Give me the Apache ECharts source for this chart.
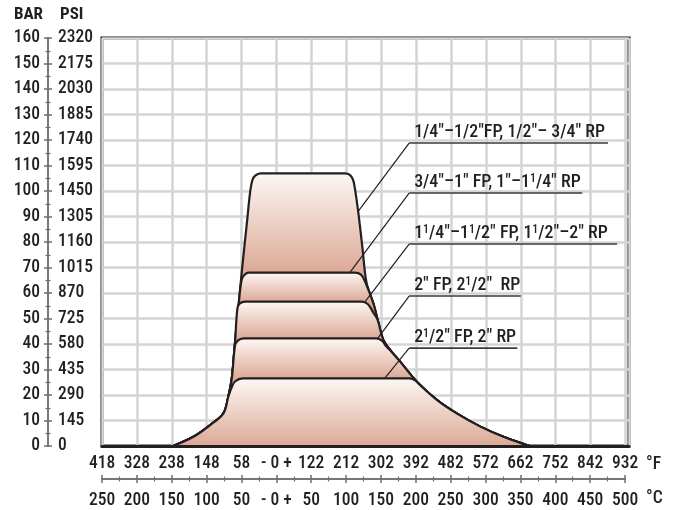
<!DOCTYPE html>
<html>
<head>
<meta charset="utf-8">
<script src="https://cdn.jsdelivr.net/npm/echarts@6/dist/echarts.min.js"></script>
<style>html,body{margin:0;padding:0;background:#fff}#c{width:675px;height:510px}</style>
</head>
<body>
<div id="c"></div>
<script>
// ---- tick labels ----
const barTicks = ['0','10','20','30','40','50','60','70','80','90','100','110','120','130','140','150','160'];
const psiTicks = ['0','145','290','435','580','725','870','1015','1160','1305','1450','1595','1740','1885','2030','2175','2320'];
const celsiusTicks = ['250','200','150','100','50','- 0 +','50','100','150','200','250','300','350','400','450','500'];
const fahrenheitTicks = ['418','328','238','148','58','- 0 +','122','212','302','392','482','572','662','752','842','932'];

// ---- pressure/temperature envelopes: [°C, bar] ----
const size14to12 = [[-148,0],[-119,3.6],[-95,8.2],[-76,12.8],[-69,19.3],[-64,26.5],[-59.5,40.3],[-54,56],[-50,67.7],[-42,88.6],[-38,99.1],[-34.5,104.3],[-30.5,106],[-23,106.9],[98,106.9],[105,106.3],[109.5,104.5],[112,101.5],[117,92],[123,78],[129,64],[138.7,56],[145,49.4],[153,41.6],[165,36.9],[177,33.1],[203,24.6],[230,18],[258,12.8],[292,7.6],[325,3.6],[358,0.4],[363,0]];
const size34to1 = [[-148,0],[-119,3.6],[-95,8.2],[-76,12.8],[-69,19.3],[-64,26.5],[-59.5,40.3],[-54,56],[-50.5,64.4],[-47.5,66.6],[-40,68],[112,68],[121,67.2],[127,64.4],[138.7,56],[145,49.4],[153,41.6],[165,36.9],[177,33.1],[203,24.6],[230,18],[258,12.8],[292,7.6],[325,3.6],[358,0.4],[363,0]];
const size114to112 = [[-148,0],[-119,3.6],[-95,8.2],[-76,12.8],[-69,19.3],[-64,26.5],[-59.5,40.3],[-56,54],[-52.5,55.9],[-45,56.6],[122,56.6],[131,55.6],[138.5,52.4],[145,49.4],[153,41.6],[165,36.9],[177,33.1],[203,24.6],[230,18],[258,12.8],[292,7.6],[325,3.6],[358,0.4],[363,0]];
const size2 = [[-148,0],[-119,3.6],[-95,8.2],[-76,12.8],[-69,19.3],[-64,26.5],[-59.5,39.2],[-55.5,41.3],[-47,42.2],[143,42.2],[151,41.3],[157,39.2],[165,36.9],[177,33.1],[203,24.6],[230,18],[258,12.8],[292,7.6],[325,3.6],[358,0.4],[363,0]];
const size212 = [[-148,0],[-119,3.6],[-95,8.2],[-76,12.8],[-69,19.3],[-64.5,22.8],[-59.5,25.3],[-48,26.5],[191,26.5],[198.5,25.8],[205.5,23.9],[230,18],[258,12.8],[292,7.6],[325,3.6],[358,0.4],[363,0]];

// ---- annotation texts and their anchors [°C, bar] ----
const annoText = [
  '1/4"–1/2"FP, 1/2"– 3/4" RP',
  '3/4"–1" FP, 1"–1{s|1}/4" RP',
  '1{s|1}/4"–1{s|1}/2" FP, 1{s|1}/2"–2" RP',
  '2" FP, 2{s|1}/2"  RP',
  '2{s|1}/2" FP, 2" RP'
];
const annoPoint = [[117,92],[105,68],[127,56.6],[145,42.2],[155,26.5]];
const annoLabelY = [118.8, 99.2, 79.2, 58.8, 38.4];
const annoLabelX = 190;
const annoLineEnd = [475, 438, 488, 350, 345];

// ---- pick the narrowest available installed font ----
const mctx = document.createElement('canvas').getContext('2d');
function hasFont(f) {
  const s = 'mmmmmmwwwwlli0123456789';
  for (const fb of ['monospace', 'serif']) {
    mctx.font = '40px ' + fb; const a = mctx.measureText(s).width;
    mctx.font = "40px '" + f + "', " + fb; const b = mctx.measureText(s).width;
    if (a !== b) return true;
  }
  return false;
}
const cands = ['Liberation Sans Narrow', 'Roboto Condensed', 'DejaVu Sans Condensed', 'Open Sans Condensed', 'Liberation Sans', 'Roboto'];
let FONT = 'sans-serif';
for (const f of cands) { if (hasFont(f)) { FONT = "'" + f + "'"; break; } }
const WEIGHT = 500;
function tw(txt, size, weight) { mctx.font = (weight || 'normal') + ' ' + size + 'px ' + FONT; return mctx.measureText(txt).width; }
// size the labels so that "2320" is about as wide as in the reference
const AX = Math.min(18, Math.round(18 * 35 / tw('2320', 18, WEIGHT) * 2) / 2);
// annotations: keep the reference height, condense horizontally
const ANNO = 18;
const annoScale = Math.min(1, 191 / tw(annoText[0], ANNO, WEIGHT));

const INK = '#231f20';
const LIGHT = '#fdf7f3';
const DARK = '#dca996';

const shapes = [size14to12, size34to1, size114to112, size2, size212];
const tops = shapes.map(s => Math.max(...s.map(p => p[1])));

function grad(i) {
  const f = i < shapes.length - 1 ? (tops[i] - tops[i + 1]) / tops[i] : 1;
  return new echarts.graphic.LinearGradient(0, 0, 0, 1, [
    {offset: 0, color: LIGHT}, {offset: f, color: DARK}, {offset: 1, color: DARK}
  ]);
}

const chart = echarts.init(document.getElementById('c'));
const splitStyle = {show: true, lineStyle: {color: '#d4d4d4', width: 2.5}};
const rulerLine = {show: true, onZero: false, lineStyle: {color: '#6d6e71', width: 1.5}};
const noLine = {show: false, onZero: false};
const labelStyle = {fontFamily: FONT, fontSize: AX, fontWeight: WEIGHT, color: INK};
const tickStyle = {color: '#6d6e71', width: 1.5};
const minorStyle = {color: '#6d6e71', width: 1.2};

chart.setOption({
  animation: false,
  backgroundColor: '#fff',
  grid: [
    {left: 102, top: 38, width: 527, height: 408, show: true, borderColor: INK, borderWidth: 3, backgroundColor: '#fff'},
    {left: 102, top: 38, width: 523, height: 408}
  ],
  xAxis: [
    {gridIndex: 0, type: 'value', min: -250, max: 505, interval: 50, splitLine: splitStyle,
     axisLine: noLine, axisTick: {show: false}, axisLabel: {show: false}},
    {gridIndex: 0, type: 'value', min: -250, max: 505, position: 'bottom', z: 10, splitLine: {show: false},
     axisLine: {show: true, onZero: false, lineStyle: {color: INK, width: 3}}, axisTick: {show: false}, axisLabel: {show: false}},
    {gridIndex: 1, type: 'value', min: -250, max: 500, interval: 50, position: 'bottom', offset: 34,
     splitLine: {show: false}, axisLine: rulerLine,
     axisTick: {show: true, length: 4, lineStyle: tickStyle},
     minorTick: {show: true, splitNumber: 2, length: 2.5, lineStyle: minorStyle},
     axisLabel: Object.assign({margin: 13, formatter: v => celsiusTicks[Math.round((v + 250) / 50)]}, labelStyle)},
    {gridIndex: 1, type: 'value', min: -250, max: 500, interval: 50, position: 'bottom', offset: 34,
     splitLine: {show: false}, axisLine: rulerLine,
     axisTick: {show: true, inside: true, length: 4, lineStyle: tickStyle},
     minorTick: {show: true, splitNumber: 2, length: 2.5, lineStyle: minorStyle},
     axisLabel: Object.assign({inside: true, margin: 6, formatter: v => fahrenheitTicks[Math.round((v + 250) / 50)]}, labelStyle)}
  ],
  yAxis: [
    {gridIndex: 0, type: 'value', min: 0, max: 160, interval: 10, splitLine: splitStyle,
     axisLine: noLine, axisTick: {show: false}, axisLabel: {show: false}},
    {gridIndex: 0, type: 'value', min: 0, max: 160, interval: 10, position: 'left', offset: 54,
     splitLine: {show: false}, axisLine: rulerLine,
     axisTick: {show: true, length: 4, lineStyle: tickStyle},
     minorTick: {show: true, splitNumber: 2, length: 2.5, lineStyle: minorStyle},
     axisLabel: Object.assign({margin: 8, formatter: v => barTicks[Math.round(v / 10)]}, labelStyle),
     name: 'BAR', nameLocation: 'end', nameGap: 15,
     nameTextStyle: {fontFamily: FONT, fontSize: 17, fontWeight: 'bold', color: INK, align: 'right', padding: [0, 5, 0, 0]}},
    {gridIndex: 0, type: 'value', min: 0, max: 160, interval: 10, position: 'left', offset: 54,
     splitLine: {show: false}, axisLine: rulerLine,
     axisTick: {show: true, inside: true, length: 4, lineStyle: tickStyle},
     minorTick: {show: true, splitNumber: 2, length: 2.5, lineStyle: minorStyle},
     axisLabel: Object.assign({inside: true, margin: 10, formatter: v => psiTicks[Math.round(v / 10)]}, labelStyle),
     name: 'PSI', nameLocation: 'end', nameGap: 15,
     nameTextStyle: {fontFamily: FONT, fontSize: 17, fontWeight: 'bold', color: INK, align: 'left', padding: [0, 0, 0, 12]}},
    {gridIndex: 1, type: 'value', min: 0, max: 160, show: false}
  ],
  graphic: [
    {type: 'text', left: 646, top: 456, style: {text: '°F', fontFamily: FONT, fontSize: AX, fontWeight: WEIGHT, fill: INK}},
    {type: 'text', left: 646, top: 490, style: {text: '°C', fontFamily: FONT, fontSize: AX, fontWeight: WEIGHT, fill: INK}}
  ],
  series: shapes.map((s, i) => ({
    type: 'line', xAxisIndex: 0, yAxisIndex: 0, data: s, smooth: 0.35, symbol: 'none',
    lineStyle: {color: INK, width: 2.2}, areaStyle: {color: grad(i), opacity: 1}, z: 2 + i * 0.01
  })).concat([{
    type: 'custom', xAxisIndex: 0, yAxisIndex: 0, z: 5, clip: false,
    data: annoText.map((t, i) => [annoPoint[i][0], annoPoint[i][1], annoLabelX, annoLabelY[i], annoLineEnd[i]]),
    encode: {x: [0, 2, 4], y: [1, 3]},
    renderItem: function (params, api) {
      const i = params.dataIndex;
      const p = api.coord([api.value(0), api.value(1)]);
      const a = api.coord([api.value(2), api.value(3)]);
      const e = api.coord([api.value(4), api.value(3)]);
      return {type: 'group', children: [
        {type: 'line', shape: {x1: p[0], y1: p[1], x2: a[0], y2: a[1]}, style: {stroke: INK, lineWidth: 1.2}},
        {type: 'line', shape: {x1: a[0], y1: a[1], x2: e[0], y2: e[1]}, style: {stroke: '#3a3a3a', lineWidth: 1.6}},
        {type: 'text', x: a[0] + 5, y: a[1] - 2, scaleX: annoScale, style: {
          text: annoText[i], fontFamily: FONT, fontSize: ANNO, fontWeight: WEIGHT, fill: INK, align: 'left', verticalAlign: 'bottom',
          rich: {s: {fontFamily: FONT, fontSize: 12, fontWeight: WEIGHT, fill: INK, verticalAlign: 'top', padding: [0, 0, 6, 0]}}
        }}
      ]};
    }
  }])
});
</script>
</body>
</html>
